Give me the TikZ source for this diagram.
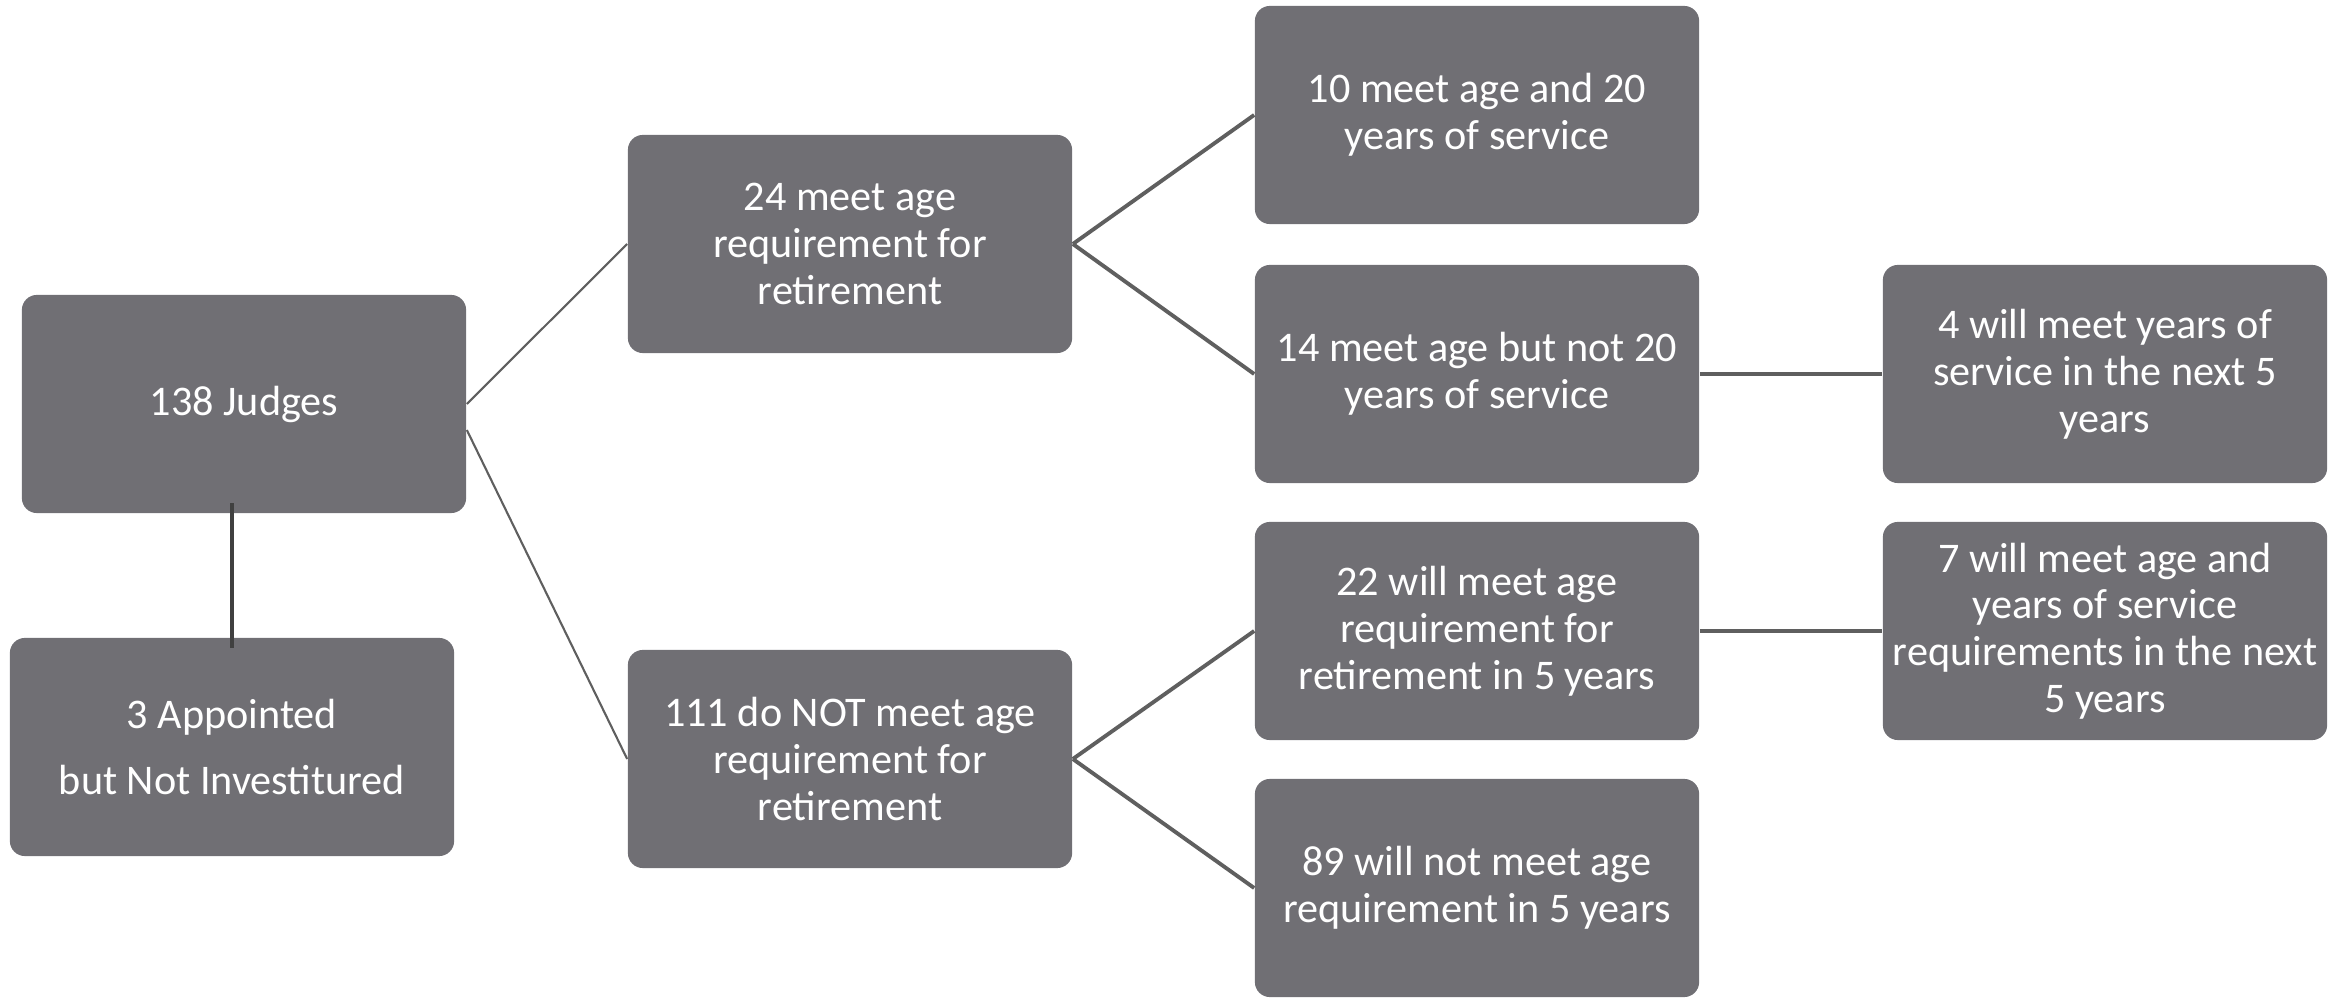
\documentclass[tikz,border=0pt]{standalone}
\usepackage{fontspec}
\setmainfont{Carlito}
\definecolor{boxgray}{RGB}{112,111,116}
\definecolor{linegray}{RGB}{95,95,95}
\definecolor{darkline}{RGB}{64,64,64}
\tikzset{
  judgebox/.style={rectangle,rounded corners=0.15cm,fill=boxgray,text=white,
    minimum width=4.44cm,minimum height=2.18cm,inner sep=0pt,align=center,
    font=\fontsize{12}{13.3}\selectfont},
  thinlink/.style={draw=linegray,line width=0.6pt},
  link/.style={draw=linegray,line width=1.1pt}
}
\begin{document}
\begin{tikzpicture}[x=0.01cm,y=-0.01cm]
        \useasboundingbox (0,0) rectangle (2343,998);
        \node[judgebox] (judges) at (244,404) {138 Judges}; %root
        \node[judgebox,font=\fontsize{12}{18.5}\selectfont] (appointed) at (232,747) {3 Appointed\\but Not Investitured};
        \node[judgebox] (meet) at (850,244) {24 meet age\\requirement for\\retirement};
        \node[judgebox] (notmeet) at (850,759) {111 do NOT meet age\\requirement for\\retirement};
        \node[judgebox] (ten) at (1477,115) {10 meet age and 20\\years of service};
        \node[judgebox] (fourteen) at (1477,374) {14 meet age but not 20\\years of service};
        \node[judgebox] (twentytwo) at (1477,631) {22 will meet age\\requirement for\\retirement in 5 years};
        \node[judgebox] (eightynine) at (1477,888) {89 will not meet age\\requirement in 5 years};
        \node[judgebox] (four) at (2105,374) {4 will meet years of\\service in the next 5\\years};
        \node[judgebox] (seven) at (2105,631) {7 will meet age and\\years of service\\requirements in the next\\5 years};
        %connectors
        \draw[darkline,line width=1.2pt,shorten <=-3pt,shorten >=-3pt] (judges.south -| appointed.north) -- (appointed.north);
        \draw[thinlink] (judges.east) -- (meet.west);
        \draw[thinlink] ([yshift=-0.26cm]judges.east) -- (notmeet.west);
        \draw[link] (meet.east) -- (ten.west);
        \draw[link] (meet.east) -- (fourteen.west);
        \draw[link] (notmeet.east) -- (twentytwo.west);
        \draw[link] (notmeet.east) -- (eightynine.west);
        \draw[link] (fourteen.east) -- (four.west);
        \draw[link] (twentytwo.east) -- (seven.west);
    \end{tikzpicture}
\end{document}
